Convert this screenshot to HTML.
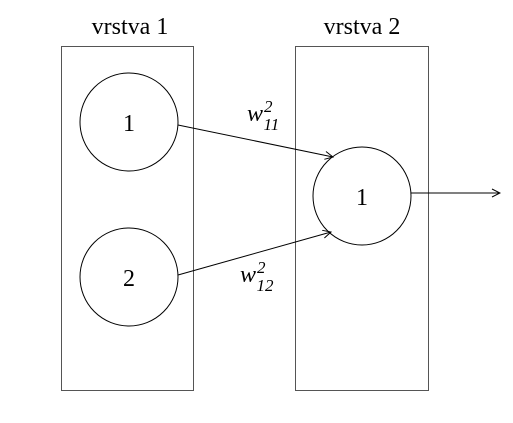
<!DOCTYPE html>
<html><head><meta charset="utf-8"><style>
html,body{margin:0;padding:0;background:#fff;}
svg text{font-family:"Liberation Serif","DejaVu Serif","Noto Serif CJK SC",serif;}
</style></head><body>
<svg width="513" height="418" viewBox="0 0 513 418">
<defs><marker id="ah" markerWidth="10" markerHeight="10" refX="9" refY="5" orient="auto" markerUnits="userSpaceOnUse"><path d="M1,1 L9,5 L1,9" fill="none" stroke="#000" stroke-width="1"/></marker></defs>
<text x="130" y="34" font-size="24" text-anchor="middle">vrstva 1</text>
<text x="362" y="34" font-size="24" text-anchor="middle">vrstva 2</text>
<rect x="61.5" y="46.5" width="132" height="344" fill="none" stroke="#555" stroke-width="1"/>
<rect x="295.5" y="46.5" width="133" height="344" fill="none" stroke="#555" stroke-width="1"/>
<g><circle cx="129" cy="122" r="49" fill="none" stroke="#000"/><text x="129" y="131" font-size="24" text-anchor="middle">1</text></g>
<g><circle cx="129" cy="277" r="49" fill="none" stroke="#000"/><text x="129" y="286" font-size="24" text-anchor="middle">2</text></g>
<g><circle cx="362" cy="196" r="49" fill="none" stroke="#000"/><text x="362" y="205" font-size="24" text-anchor="middle">1</text></g>
<line x1="178" y1="125" x2="333" y2="157" stroke="#000" marker-end="url(#ah)"/>
<line x1="178" y1="275" x2="331" y2="232" stroke="#000" marker-end="url(#ah)"/>
<line x1="411" y1="193" x2="500" y2="193" stroke="#000" marker-end="url(#ah)"/>
<text x="247" y="121" font-size="24" font-style="italic">w<tspan font-size="17" dx="1" dy="-9">2</tspan><tspan font-size="17" dx="-9" dy="18">11</tspan></text>
<text x="240" y="282" font-size="24" font-style="italic">w<tspan font-size="17" dx="1" dy="-9">2</tspan><tspan font-size="17" dx="-9" dy="18">12</tspan></text>
</svg>
</body></html>
